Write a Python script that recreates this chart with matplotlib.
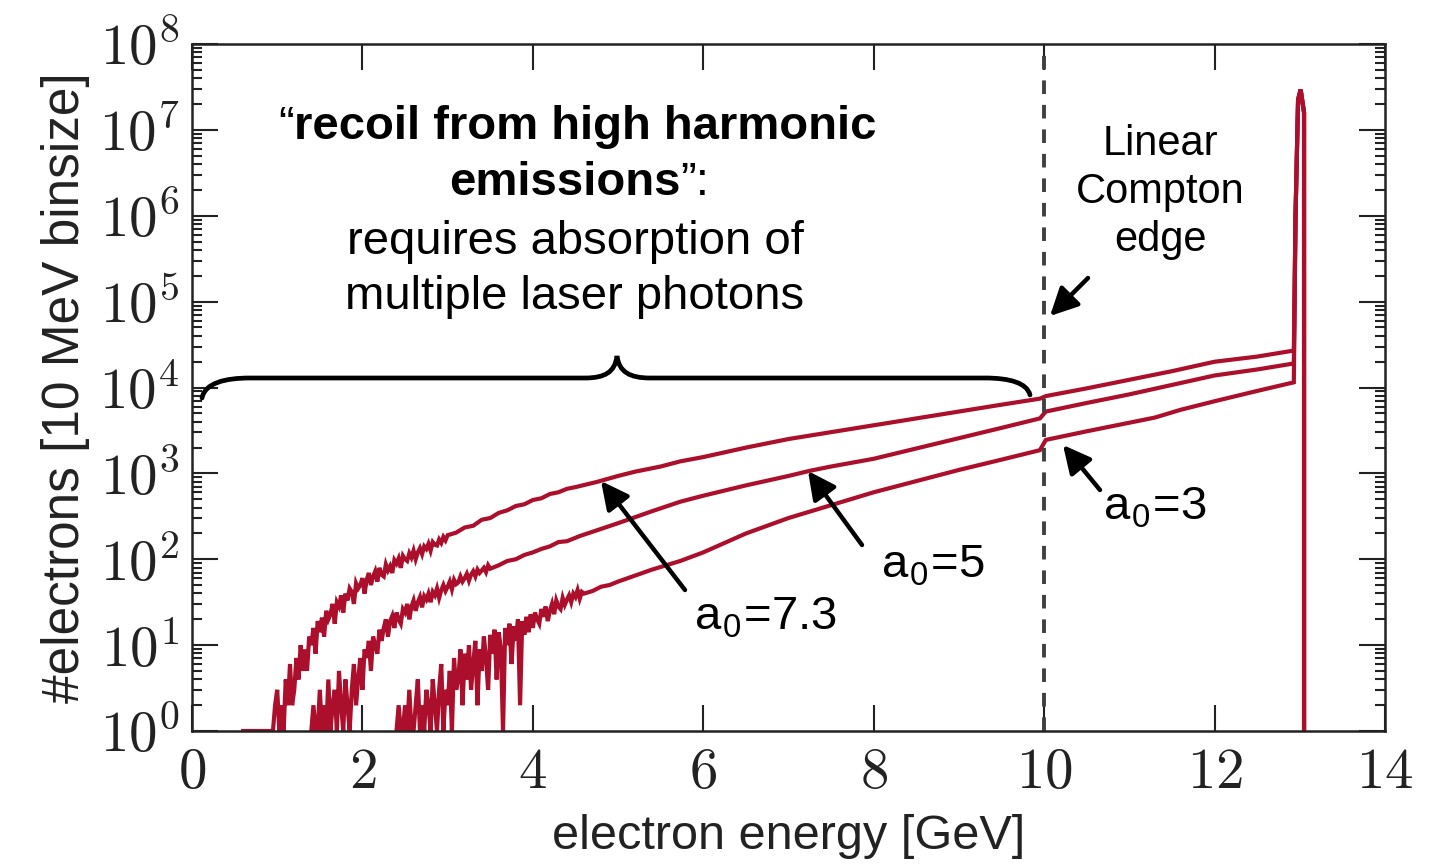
import numpy as np
import matplotlib
matplotlib.use("Agg")
import matplotlib.pyplot as plt
from matplotlib.path import Path
from matplotlib.patches import PathPatch
from matplotlib.ticker import FixedLocator, FuncFormatter, LogLocator, NullFormatter

plt.rcParams['mathtext.fontset'] = 'cm'

EMPTY = -np.inf  # empty bin (0 electrons)

# log10(#electrons per 10 MeV bin).
# the noisy low-energy part is sampled every 25 MeV, the rest more coarsely

# a0 = 7.3
lo_a73 = [0, 0.3, 0.48, 0, 0.3, 0, 0.6, 0.3,
          0.78, 0.3, 0.48, 0.85, 0.6, 1.0, 0.7, 0.95,
          0.7, 1.1, 1.0, 1.2, 0.9, 1.28, 1.15, 1.32,
          1.1, 1.4, 1.3, 1.36, 1.48, 1.25, 1.5, 1.45,
          1.58, 1.38, 1.6, 1.52, 1.66, 1.62, 1.48, 1.72,
          1.66, 1.7, 1.78, 1.6, 1.76, 1.84, 1.7, 1.8,
          1.86, 1.74, 1.9, 1.82, 1.8, 1.94, 1.87, 1.92,
          1.84, 1.99, 1.95, 2.01, 1.9, 2.04, 2.0, 1.98,
          2.07, 2.02, 2.1, 2.0, 2.08, 2.13, 2.06, 2.15,
          2.12, 2.18, 2.1, 2.2, 2.17, 2.16, 2.23, 2.19,
          2.26, 2.22, 2.28]
lo_a73_start, lo_a73_stop = 0.95, 3.0
hi_a73_e = [3.10, 3.20, 3.30, 3.40, 3.50, 3.60, 3.70, 3.80, 3.90, 4.00, 4.10, 4.20,
            4.30, 4.40, 4.50, 4.75, 5.00, 5.20, 5.50, 5.73, 6.00, 6.50, 7.00, 7.50,
            8.00, 8.50, 9.00, 9.50, 9.95, 10.02, 10.50, 11.00, 11.50, 12.00, 12.50, 12.93]
hi_a73 = [2.31, 2.37, 2.39, 2.46, 2.48, 2.54, 2.57, 2.62, 2.64, 2.69, 2.71, 2.76,
          2.78, 2.82, 2.84, 2.90, 2.97, 3.02, 3.08, 3.14, 3.19, 3.30, 3.40, 3.48,
          3.56, 3.64, 3.72, 3.80, 3.87, 3.90, 3.99, 4.09, 4.19, 4.30, 4.36, 4.43]

# a0 = 5
lo_a5 = [0, 0.3, 0, 0, 0.48, 0, 0.3, 0,
         0.6, 0, 0.3, 0.48, 0, 0.7, 0.3, 0,
         0.6, 0.3, 0, 0.48, 0.78, 0.3, 0.6, 0.85,
         0.48, 0.95, 0.85, 1.05, 0.7, 1.1, 1.0, 0.9,
         1.18, 1.05, 1.2, 1.3, 1.1, 1.28, 1.34, 1.2,
         1.38, 1.3, 1.25, 1.42, 1.38, 1.48, 1.3, 1.45,
         1.52, 1.4, 1.5, 1.56, 1.44, 1.57, 1.53, 1.6,
         1.5, 1.62, 1.58, 1.66, 1.55, 1.64, 1.7, 1.63,
         1.68, 1.74, 1.65, 1.76, 1.71, 1.73, 1.8, 1.74,
         1.78, 1.83, 1.75, 1.82, 1.86, 1.8, 1.88, 1.84,
         1.87, 1.9, 1.85, 1.93, 1.89]
lo_a5_start, lo_a5_stop = 1.40, 3.50
hi_a5_e = [3.60, 3.70, 3.80, 3.90, 4.00, 4.10, 4.20, 4.30, 4.40, 4.55, 5.00, 5.40,
           5.73, 6.00, 6.50, 7.00, 7.25, 7.50, 8.00, 8.50, 9.00, 9.50, 9.95, 10.02,
           10.50, 11.00, 11.50, 12.00, 12.50, 12.93]
hi_a5 = [1.93, 1.98, 2.00, 2.05, 2.08, 2.12, 2.15, 2.20, 2.21, 2.27, 2.42, 2.56,
         2.67, 2.74, 2.86, 2.97, 3.03, 3.08, 3.17, 3.29, 3.41, 3.53, 3.64, 3.72,
         3.82, 3.92, 4.03, 4.14, 4.21, 4.28]

# a0 = 3
lo_a3 = [0, 0.3, 0, 0, 0.3, 0, 0.48, 0,
         0, 0.3, 0.6, 0, 0.3, 0, 0.48, 0.3,
         0, 0.6, 0.3, 0, 0.48, 0.78, 0, 0.48,
         0.3, 0.7, 0, 0.85, 0.48, 0.6, 0.95, 0.3,
         0.9, 0.6, 1.0, 0.48, 0.78, 1.05, 0.3, 0.95,
         0.7, 1.1, 0.85, 0.48, 1.12, 0.9, 1.18, 0.6,
         1.15, 0.95, 0, 1.2, 1.0, 1.25, 0.78, 1.22,
         1.05, 1.3, 0.3, 1.28, 1.12, 1.33, 1.15, 1.36,
         1.2, 1.38, 1.3, 1.25, 1.42, 1.33, 1.45, 1.28,
         1.4, 1.48, 1.36, 1.52, 1.45, 1.42, 1.55, 1.47,
         1.53, 1.58, 1.5, 1.6, 1.56, 1.64, 1.54, 1.62,
         1.6]
lo_a3_start, lo_a3_stop = 2.40, 4.60
hi_a3_e = [4.70, 4.80, 4.90, 5.00, 5.20, 5.40, 5.73, 6.00, 6.50, 7.00, 7.50, 8.00,
           8.50, 9.00, 9.50, 9.95, 10.02, 10.50, 11.00, 11.30, 11.60, 12.00, 12.50, 12.93]
hi_a3 = [1.63, 1.68, 1.70, 1.74, 1.81, 1.88, 1.98, 2.08, 2.30, 2.48, 2.63, 2.78,
         2.91, 3.04, 3.16, 3.27, 3.39, 3.49, 3.59, 3.65, 3.74, 3.84, 3.96, 4.06]

# the unscattered beam peak, shared by all three spectra
e_peak = [12.95, 12.98, 13.01, 13.05, 13.06]
n_peak = [6.0, 7.35, 7.47, 7.2, EMPTY]

xticks = [0, 2, 4, 6, 8, 10, 12, 14]
compton_edge = 10.0

RED = '#AC0F2B'
W, H = 1432, 866


def fp(x, y):
    # pixel position in the figure -> figure fraction
    return x / W, 1 - y / H


def spectrum(lo, start, stop, hi_e, hi, pre=()):
    e_lo = np.round(np.arange(start, stop + 1e-6, 0.025), 3)
    assert len(e_lo) == len(lo)
    e = np.concatenate([[p[0] for p in pre], e_lo, hi_e, e_peak])
    n = np.concatenate([[p[1] for p in pre], lo, hi, n_peak])
    return e, 10.0 ** n


fig = plt.figure(figsize=(W / 100, H / 100), dpi=100)
ax = fig.add_axes([192 / W, 1 - 731 / H, (1385 - 192) / W, (731 - 44) / H])

curves = [spectrum(lo_a73, lo_a73_start, lo_a73_stop, hi_a73_e, hi_a73, pre=[(0.6, 0)]),
          spectrum(lo_a5, lo_a5_start, lo_a5_stop, hi_a5_e, hi_a5),
          spectrum(lo_a3, lo_a3_start, lo_a3_stop, hi_a3_e, hi_a3)]
for e, n in curves:
    ax.plot(e, n, color=RED, lw=3.0, solid_joinstyle='miter')

ax.axvline(compton_edge, color='#404040', lw=2.8, ls=(0, (3.5, 2.8)))

ax.set_yscale('log')
ax.set_xlim(0, 14)
ax.set_ylim(1, 1e8)
ax.xaxis.set_major_locator(FixedLocator(xticks))
ax.xaxis.set_major_formatter(FuncFormatter(lambda v, p: r'$%d$' % v))
ax.yaxis.set_major_locator(LogLocator(base=10, numticks=20))
ax.yaxis.set_minor_locator(LogLocator(base=10, subs=np.arange(2, 10), numticks=20))
ax.yaxis.set_minor_formatter(NullFormatter())
ax.yaxis.set_major_formatter(FuncFormatter(lambda v, p: r'$10^{%d}$' % round(np.log10(v))))
ax.tick_params(which='both', direction='in', top=True, right=True, width=1.5, colors='#222222')
ax.tick_params(which='major', length=19, labelsize=41, labelcolor='#222222')
ax.tick_params(which='minor', length=7)
ax.tick_params(axis='x', pad=10)
ax.tick_params(axis='y', pad=9)
for s in ax.spines.values():
    s.set_linewidth(1.8)
    s.set_color('#222222')

arial = ['Liberation Sans', 'DejaVu Sans']
ax.set_xlabel('electron energy [GeV]', fontsize=35, family=arial, color='#222222', labelpad=10)
ax.set_ylabel('#electrons [10 MeV binsize]', fontsize=37, family=arial, color='#222222', labelpad=6)

# curly brace over 0 .. 10 GeV
brace = [(202, 398), (205, 383), (225, 378), (250, 378), (585, 378),
         (605, 378), (615, 372), (617, 356), (619, 372), (630, 378), (650, 378),
         (985, 378), (1010, 378), (1027, 383), (1030, 395)]
codes = [Path.MOVETO, Path.CURVE4, Path.CURVE4, Path.CURVE4, Path.LINETO,
         Path.CURVE4, Path.CURVE4, Path.CURVE4, Path.CURVE4, Path.CURVE4, Path.CURVE4,
         Path.LINETO, Path.CURVE4, Path.CURVE4, Path.CURVE4]
bp = Path([fp(*v) for v in brace], codes)
fig.add_artist(PathPatch(bp, transform=fig.transFigure, fill=False, lw=3.4,
                         edgecolor='black', capstyle='round'))

# annotation text
fs = 34
renderer = fig.canvas.get_renderer()
t1 = fig.text(*fp(585, 127), 'recoil from high harmonic', ha='center', va='center',
              fontsize=fs, family=arial, weight='bold')
t2 = fig.text(*fp(565, 183), 'emissions', ha='center', va='center',
              fontsize=fs, family=arial, weight='bold')
b1 = t1.get_window_extent(renderer)
b2 = t2.get_window_extent(renderer)
fig.text(b1.x0 / W, 1 - 127 / H, '\u201c', ha='right', va='center', fontsize=fs, family=arial)
fig.text(b2.x1 / W, 1 - 183 / H, '\u201d:', ha='left', va='center', fontsize=fs, family=arial)
fig.text(*fp(575, 242), 'requires absorption of', ha='center', va='center',
         fontsize=fs, family=arial)
fig.text(*fp(575, 297), 'multiple laser photons', ha='center', va='center',
         fontsize=fs, family=arial)

fig.text(*fp(1160, 192), 'Linear\nCompton\nedge', ha='center', va='center',
         fontsize=30, family=arial, linespacing=1.25)

labels = [('a$_\\mathregular{0}$=7.3', (766, 618), (685, 590), (601, 481)),
          ('a$_\\mathregular{0}$=5', (933, 566), (862, 545), (808, 471)),
          ('a$_\\mathregular{0}$=3', (1155, 508), (1100, 490), (1063, 445))]
arrow = dict(arrowstyle='-|>,head_length=0.7,head_width=0.35', lw=3.2,
             color='black', mutation_scale=24, shrinkA=0, shrinkB=0)
for txt, pos, tail, head in labels:
    fig.text(*fp(*pos), txt, ha='center', va='center', fontsize=34, family=arial)
    ax.annotate('', xy=fp(*head), xytext=fp(*tail), xycoords='figure fraction',
                textcoords='figure fraction', arrowprops=arrow)
ax.annotate('', xy=fp(1050, 316), xytext=fp(1088, 278), xycoords='figure fraction',
            textcoords='figure fraction', arrowprops=arrow)

fig.savefig('out.png', dpi=100)
